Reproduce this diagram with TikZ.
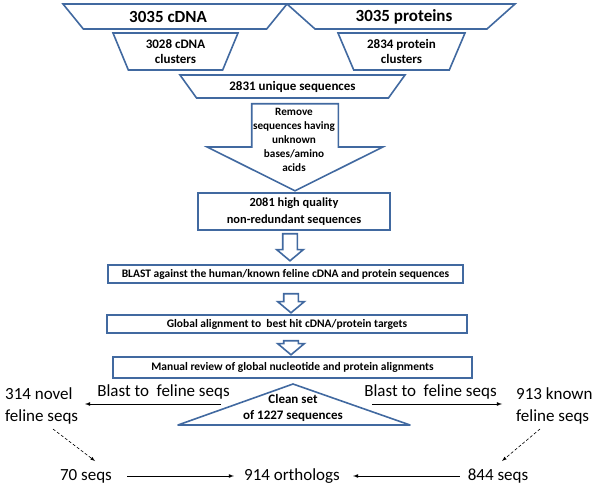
\documentclass[tikz,border=0pt]{standalone}
\usepackage{fontspec}
\setmainfont{Carlito}
\usetikzlibrary{arrows,shapes.geometric,shapes.arrows}
\definecolor{flow_blue}{RGB}{65, 105, 160}
\tikzstyle{trap}=[trapezium,shape border rotate=180,trapezium stretches body,
  draw=flow_blue,line width=1.6pt,inner sep=0pt,align=center]
\tikzstyle{trapbig}=[trap,minimum height=25pt,
  font=\bfseries\fontsize{17}{20}\selectfont]
\tikzstyle{trapmid}=[trap,font=\bfseries\fontsize{13}{15}\selectfont]
\tikzstyle{box}=[rectangle,draw=flow_blue,line width=1.6pt,inner sep=0pt,
  align=center,font=\bfseries\fontsize{11.5}{14}\selectfont]
\tikzstyle{downarrow}=[single arrow,rotate=-90,anchor=tail,draw=flow_blue,
  line width=1.6pt,inner xsep=0pt,inner ysep=6.5pt,single arrow head extend=6pt,
  single arrow tip angle=100]
\tikzstyle{bigarrow}=[single arrow,rotate=-90,anchor=tail,draw=flow_blue,
  line width=1.6pt,inner xsep=0pt,inner ysep=42.5pt,single arrow head extend=44.5pt,
  single arrow tip angle=127,minimum height=87pt]
\tikzstyle{txt}=[inner sep=0pt,font=\fontsize{17}{22}\selectfont]
\tikzstyle{thinarrow}=[-latex,line width=0.8pt]
\tikzstyle{dasharrow}=[-latex,densely dashed,line width=0.6pt]
\tikzstyle{none}=[]

\begin{document}
\begin{tikzpicture}[x=1pt,y=-1pt]
            \useasboundingbox (0,0) rectangle (600,486);
            \node [style=trapbig,trapezium angle=29,minimum width=224pt] (0) at (175, 16.5) {3035 cDNA\hspace{14pt}};
            \node [style=trapbig,trapezium angle=27.5,minimum width=228pt] (1) at (401, 16.5) {\hspace{6pt}3035 proteins};
            \node [style=trapmid,trapezium angle=57.5,minimum width=125pt,minimum height=37pt] (2) at (175.5, 51.5) {3028 cDNA\\clusters};
            \node [style=trapmid,trapezium angle=57,minimum width=127pt,minimum height=37pt] (3) at (401.5, 51.5) {2834 protein\\clusters};
            \node [style=trapmid,trapezium angle=34,minimum width=225pt,minimum height=23pt] (4) at (292.5, 86.5) {2831 unique sequences};
            \node [style=bigarrow] (5) at (295, 103) {};
            \node [style=none,align=center,font=\bfseries\fontsize{11.2}{14}\selectfont] (6) at (294, 140) {Remove\\sequences having\\unknown\\bases/amino\\acids};
            \node [style=box,minimum width=192pt,minimum height=37pt,font=\bfseries\fontsize{12.4}{17}\selectfont] (7) at (294, 211.5) {2081 high quality\\non-redundant sequences};
            \node [style=downarrow,minimum height=27pt] (8) at (290, 233) {};
            \node [style=box,minimum width=355pt,minimum height=18pt] (9) at (285.5, 274) {BLAST against the human/known feline cDNA and protein sequences};
            \node [style=downarrow,minimum height=19pt] (10) at (291, 293) {};
            \node [style=box,minimum width=360pt,minimum height=18pt] (11) at (287, 324) {Global alignment to~ best hit cDNA/protein targets};
            \node [style=downarrow,minimum height=14pt] (12) at (291, 340) {};
            \node [style=box,minimum width=359pt,minimum height=21pt] (13) at (292.5, 367.5) {Manual review of global nucleotide and protein alignments};
            \draw [draw=flow_blue,line width=1.6pt,line join=round] (178, 425) -- (293, 384) -- (410, 425) -- cycle;
            \node [style=none,align=center,font=\bfseries\fontsize{13}{16}\selectfont] (14) at (293, 408) {Clean set\\of 1227 sequences};
            \node [style=txt] (15) at (163.5, 392) {Blast to~ feline seqs};
            \node [style=txt] (16) at (430.5, 392) {Blast to~ feline seqs};
            \node [style=txt,anchor=west,align=left] (17) at (5, 406) {314 novel\\feline seqs};
            \node [style=txt,anchor=west,align=left] (18) at (516, 406) {913 known\\feline seqs};
            \node [style=txt] (19) at (86, 476) {70 seqs};
            \node [style=txt] (20) at (292, 476) {914 orthologs};
            \node [style=txt] (21) at (498, 476) {844 seqs};
            \coordinate (22) at (221, 404);
            \coordinate (23) at (85, 404);
            \coordinate (24) at (372, 404);
            \coordinate (25) at (502, 404);
            \coordinate (26) at (53, 429);
            \coordinate (27) at (95, 461);
            \coordinate (28) at (540, 429);
            \coordinate (29) at (502, 461);
            \draw [style=thinarrow] (22) to (23);
            \draw [style=thinarrow] (24) to (25);
            \draw [style=dasharrow] (26) to (27);
            \draw [style=dasharrow] (28) to (29);
            \draw [style=thinarrow,shorten <=15pt,shorten >=10pt] (19) to (20);
            \draw [style=thinarrow,shorten <=8pt,shorten >=13pt] (21) to (20);
    \end{tikzpicture}
\end{document}
